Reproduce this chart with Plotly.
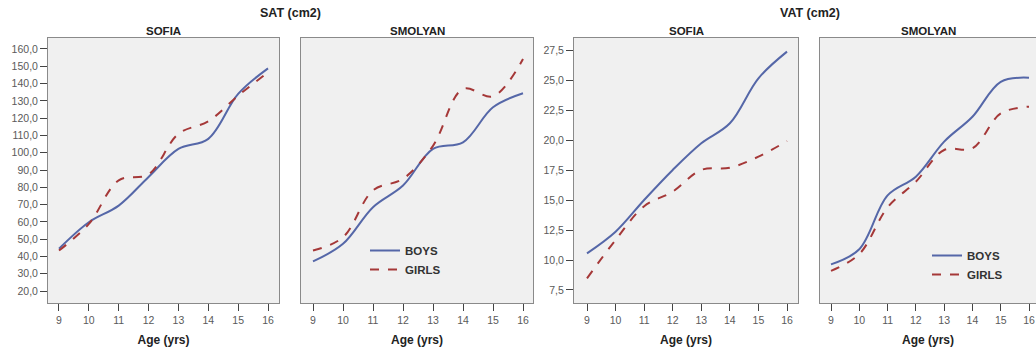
import plotly.graph_objects as go

ages = [9, 10, 11, 12, 13, 14, 15, 16]

sat_sofia_boys = [44.5, 59.8, 69.4, 86.0, 102.2, 108.0, 134.0, 148.8]
sat_sofia_girls = [43.4, 58.8, 84.0, 87.5, 110.9, 118.2, 133.0, 146.5]
sat_smolyan_boys = [37.1, 47.3, 68.5, 81.0, 102.2, 106.0, 126.3, 134.4]
sat_smolyan_girls = [43.4, 51.1, 78.2, 84.9, 104.0, 136.9, 132.6, 154.2]

vat_sofia_boys = [10.56, 12.37, 15.02, 17.53, 19.76, 21.43, 25.19, 27.42]
vat_sofia_girls = [8.47, 11.68, 14.5, 15.72, 17.53, 17.72, 18.64, 19.95]
vat_smolyan_boys = [9.64, 10.9, 15.4, 16.97, 19.9, 21.98, 24.9, 25.24]
vat_smolyan_girls = [9.09, 10.5, 14.4, 16.55, 19.2, 19.34, 22.26, 22.82]

sat_ticks = [20, 30, 40, 50, 60, 70, 80, 90, 100, 110, 120, 130, 140, 150, 160]
vat_ticks = [7.5, 10.0, 12.5, 15.0, 17.5, 20.0, 22.5, 25.0, 27.5]

panel_titles = ["SOFIA", "SMOLYAN", "SOFIA", "SMOLYAN"]
group_titles = ["SAT (cm2)", "VAT (cm2)"]
x_title = "Age (yrs)"

BLUE = "#5567a8"
RED = "#a53838"
W, H = 1036, 347
FONT = "Liberation Sans, Arial"

# pixel layout of panels
px_x = [(48, 279), (301, 533), (574, 798), (820, 1036)]
top_px, bot_px = 38, 303
xranges = [[8.632, 16.368], [8.6, 16.333], [8.545, 16.385], [8.611, 16.247]]
sat_range = [13.06, 166.36]
vat_range = [6.41, 28.56]

fig = go.Figure()

series = [
    (sat_sofia_boys, sat_sofia_girls, None),
    (sat_smolyan_boys, sat_smolyan_girls, "legend"),
    (vat_sofia_boys, vat_sofia_girls, None),
    (vat_smolyan_boys, vat_smolyan_girls, "legend2"),
]

for i, (b, g, leg) in enumerate(series):
    ax = "" if i == 0 else str(i + 1)
    show = leg is not None
    fig.add_trace(go.Scatter(
        x=ages, y=b, mode="lines", name="<b>BOYS</b>",
        line=dict(color=BLUE, width=2, shape="spline", smoothing=1.0),
        xaxis="x" + ax, yaxis="y" + ax, showlegend=show,
        legend=leg if leg else "legend"))
    fig.add_trace(go.Scatter(
        x=ages, y=g, mode="lines", name="<b>GIRLS</b>",
        line=dict(color=RED, width=2, dash="dash", shape="spline", smoothing=1.0),
        xaxis="x" + ax, yaxis="y" + ax, showlegend=show,
        legend=leg if leg else "legend"))

ydom = [1 - bot_px / H, 1 - top_px / H]
tickfont = dict(family=FONT, size=10.5, color="#5a5a5a")
titlefont = dict(family=FONT, size=12, color="#222222")

layout = dict(
    width=W, height=H,
    margin=dict(l=0, r=0, t=0, b=0),
    paper_bgcolor="white",
    plot_bgcolor="#f0f0f0",
    separators=",.",
    showlegend=True,
)

for i in range(4):
    ax = "" if i == 0 else str(i + 1)
    x0, x1 = px_x[i]
    layout["xaxis" + ax] = dict(
        domain=[x0 / W, x1 / W], range=xranges[i],
        tickvals=ages, ticks="outside", ticklen=7, tickcolor="#444444",
        tickwidth=1, tickfont=tickfont, showgrid=False, zeroline=False,
        showline=True, linecolor="#8a8a8a", linewidth=1, mirror=True,
        anchor="y" + ax,
        title=dict(text="<b>" + x_title + "</b>", font=titlefont, standoff=12),
    )
    is_sat = i < 2
    yd = dict(
        domain=ydom, range=sat_range if is_sat else vat_range,
        showgrid=False, zeroline=False, showline=True, linecolor="#8a8a8a",
        linewidth=1, mirror=True, anchor="x" + ax,
    )
    if i in (0, 2):
        yd.update(tickvals=sat_ticks if is_sat else vat_ticks,
                  tickformat=".1f", ticks="outside", ticklen=7,
                  tickcolor="#444444", tickfont=tickfont)
    else:
        yd.update(showticklabels=False, ticks="")
    layout["yaxis" + ax] = yd

legfont = dict(family=FONT, size=11.5, color="#333333")
layout["legend"] = dict(
    x=365 / W, y=1 - 236 / H, xanchor="left", yanchor="top",
    bgcolor="rgba(0,0,0,0)", font=legfont,
    itemwidth=30, tracegroupgap=0, traceorder="normal",
)
layout["legend2"] = dict(
    x=927 / W, y=1 - 241 / H, xanchor="left", yanchor="top",
    bgcolor="rgba(0,0,0,0)", font=legfont,
    itemwidth=30, tracegroupgap=0, traceorder="normal",
)

annotations = []
for i in range(4):
    x0, x1 = px_x[i]
    annotations.append(dict(
        text="<b>" + panel_titles[i] + "</b>", x=(x0 + x1) / 2 / W, y=1 - 31 / H,
        xref="paper", yref="paper", showarrow=False,
        font=dict(family=FONT, size=11.5, color="#222222"),
        xanchor="center", yanchor="middle"))
gfont = dict(family=FONT, size=12.5, color="#222222")
annotations.append(dict(
    text="<b>" + group_titles[0] + "</b>", x=290 / W, y=1 - 13 / H, xref="paper", yref="paper",
    showarrow=False, font=gfont, xanchor="center", yanchor="middle"))
annotations.append(dict(
    text="<b>" + group_titles[1] + "</b>", x=810 / W, y=1 - 13 / H, xref="paper", yref="paper",
    showarrow=False, font=gfont, xanchor="center", yanchor="middle"))
layout["annotations"] = annotations

fig.update_layout(**layout)
fig.write_html("out.html")
